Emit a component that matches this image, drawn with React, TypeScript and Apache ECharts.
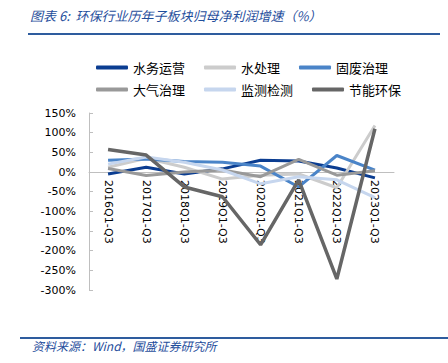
import React, { useEffect, useRef } from "react";
import * as echarts from "echarts";

const categories = ["2016Q1-Q3", "2017Q1-Q3", "2018Q1-Q3", "2019Q1-Q3", "2020Q1-Q3", "2021Q1-Q3", "2022Q1-Q3", "2023Q1-Q3"];
const seriesNames = ["水务运营", "水处理", "固废治理", "大气治理", "监测检测", "节能环保"];
const waterOps = [-5, 12, -5, 8, 30, 28, 10, -15];
const waterTreat = [12, 35, 12, -18, -8, -5, -40, 118];
const solidWaste = [30, 33, 27, 25, 15, -38, 42, 5];
const airGov = [9, -9, 0, 5, -12, 32, -8, 3];
const monitor = [20, 38, 25, 5, -30, -12, -20, -65];
const energySave = [57, 43, -38, -63, -185, -20, -272, 110];
const colors = ["#0B3D91", "#CCCCCC", "#4A84C8", "#999999", "#C6D6EE", "#666666"];
const yTicks = { min: -300, max: 150, interval: 50 };
const titleText = "图表 6:  环保行业历年子板块归母净利润增速（%）";
const sourceText = "资料来源：Wind，国盛证券研究所";

export default function App() {
  const ref = useRef<HTMLDivElement>(null);
  useEffect(() => {
    const chart = echarts.init(ref.current!, null, { renderer: "svg" });
    const dataSets = [waterOps, waterTreat, solidWaste, airGov, monitor, energySave];
    const gridTop = 113;
    const gridBottom = 73;
    const gridH = 363 - gridTop - gridBottom;
    const zeroFromBottom = (gridH * (0 - yTicks.min)) / (yTicks.max - yTicks.min);
    const legendBase = {
      left: 91,
      itemWidth: 32,
      itemHeight: 4,
      itemGap: 19,
      icon: "roundRect",
      textStyle: { fontSize: 13, color: "#000", fontFamily: "Noto Sans CJK SC" },
    };
    chart.setOption({
      animation: false,
      backgroundColor: "#fff",
      color: colors,
      grid: { left: 89, right: 54, top: gridTop, bottom: gridBottom },
      legend: [
        { ...legendBase, top: 56, data: seriesNames.slice(0, 3) },
        { ...legendBase, top: 78, data: seriesNames.slice(3, 6) },
      ],
      xAxis: {
        type: "category",
        data: categories,
        boundaryGap: true,
        offset: -zeroFromBottom,
        axisLine: { onZero: false, lineStyle: { color: "#BFBFBF", width: 1 } },
        axisTick: { inside: true, length: 4, lineStyle: { color: "#BFBFBF" } },
        axisLabel: {
          rotate: -90,
          margin: 8,
          fontSize: 11,
          color: "#000",
          fontFamily: "DejaVu Sans",
        },
      },
      yAxis: {
        type: "value",
        min: yTicks.min,
        max: yTicks.max,
        interval: yTicks.interval,
        splitLine: { show: false },
        axisLine: { show: true, lineStyle: { color: "#BFBFBF", width: 1 } },
        axisTick: { show: true, inside: true, length: 4, lineStyle: { color: "#BFBFBF" } },
        axisLabel: {
          formatter: (v: number) => v + "%",
          fontSize: 11,
          color: "#000",
          margin: 13,
          fontFamily: "DejaVu Sans",
        },
      },
      series: seriesNames.map((n, i) => ({
        name: n,
        type: "line",
        data: dataSets[i],
        symbol: "none",
        lineStyle: { width: i === 5 ? 3.5 : 3, color: colors[i] },
        itemStyle: { color: colors[i] },
      })),
      graphic: [
        {
          type: "text",
          left: 30,
          top: 9,
          style: {
            text: titleText,
            fontSize: 13,
            fontStyle: "italic",
            fill: "#1F4E9C",
            fontFamily: "Noto Sans CJK SC",
          },
        },
        {
          type: "line",
          shape: { x1: 28, y1: 34, x2: 440, y2: 34 },
          style: { stroke: "#2E5C9E", lineWidth: 2 },
        },
        {
          type: "line",
          shape: { x1: 20, y1: 338, x2: 448, y2: 338 },
          style: { stroke: "#2E5C9E", lineWidth: 2 },
        },
        {
          type: "text",
          left: 32,
          top: 339,
          style: {
            text: sourceText,
            fontSize: 12,
            fontStyle: "italic",
            fill: "#1F4E9C",
            fontFamily: "Noto Sans CJK SC",
          },
        },
      ],
    });
    return () => chart.dispose();
  }, []);
  return (
    <div
      ref={ref}
      style={{ position: "absolute", left: 0, top: 0, width: 448, height: 363, background: "#fff" }}
    />
  );
}
